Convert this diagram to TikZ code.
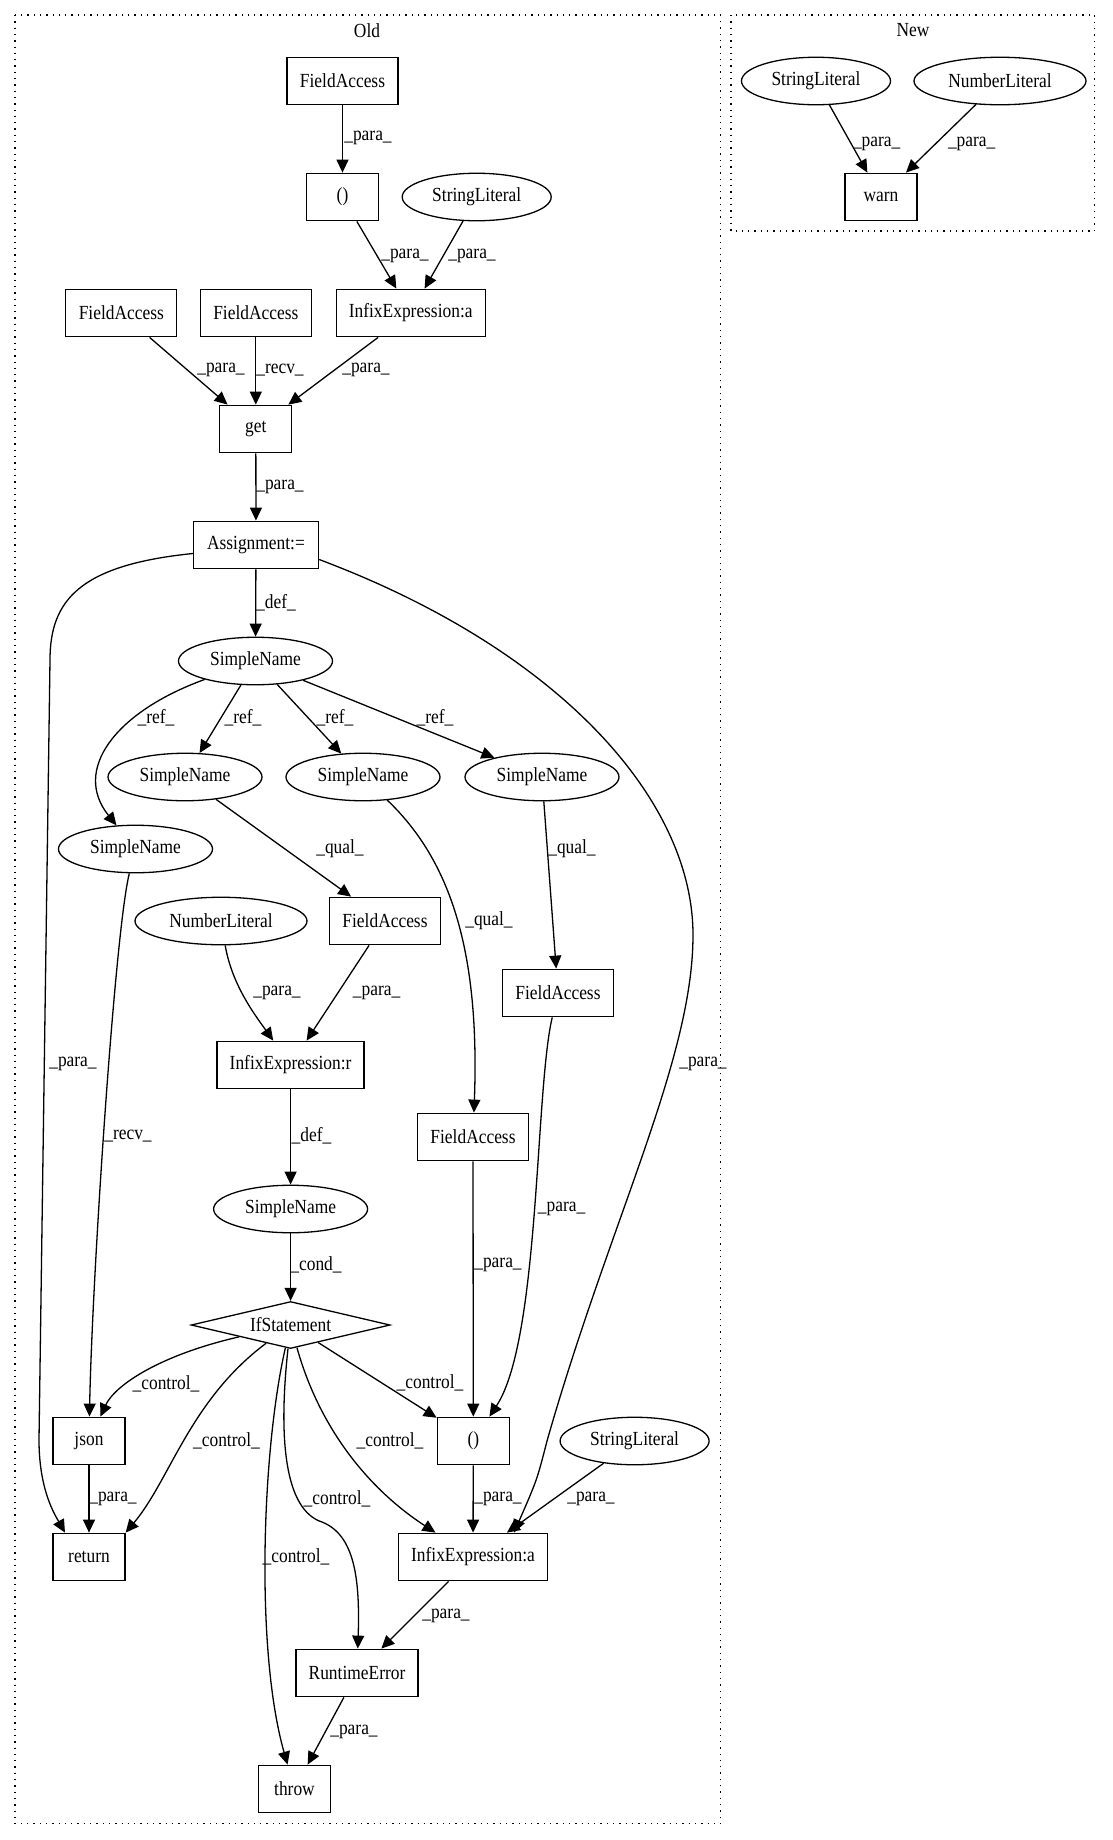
\documentclass[tikz,border=0pt]{standalone}
\usepackage{fontspec}
\setmainfont{Liberation Serif}[FakeStretch=0.87]
\usetikzlibrary{arrows.meta,shapes.geometric}

\begin{document}
\begin{tikzpicture}[x=1pt,y=-1pt,
  every node/.style={font=\fontsize{20}{22}\selectfont},
  box/.style={draw,line width=1.3pt,rectangle,minimum width=72pt,minimum height=47.5pt,inner xsep=4pt},
  oval/.style={draw,line width=1.3pt,ellipse,minimum height=47.5pt,inner sep=0pt},
  ifnode/.style={draw,line width=1.3pt,diamond,aspect=4.2,minimum width=199pt,minimum height=47pt,inner sep=0pt},
  link/.style={line width=1.3pt,-{Triangle[length=13pt,width=12pt]}},
  lbl/.style={inner sep=0pt},
  cluster/.style={line width=1.3pt,dash pattern=on 1.3pt off 5pt}]
  \useasboundingbox (0,0) rectangle (1112,1840);

  % Old
  \draw[cluster] (15,15) rectangle (720.6,1823.6);
  \node (oldt) at (367,30.5) {Old};
  \node[box,minimum width=111pt] (fa1) at (342.5,81) {FieldAccess};
  \node[box] (par1) at (342.5,197) {()};
  \node[oval,minimum width=149pt] (str1) at (476.7,197) {StringLiteral};
  \node[box,minimum width=111pt] (fa2) at (121.3,313) {FieldAccess};
  \node[box,minimum width=111pt] (fa3) at (255.8,313) {FieldAccess};
  \node[box,minimum width=149pt] (infa1) at (410.7,313) {InfixExpression:a};
  \node[box] (get) at (255.8,429) {get};
  \node[box,minimum width=125pt] (assign) at (256,545) {Assignment:=};
  \node[oval,minimum width=154pt] (snm) at (255.5,661) {SimpleName};
  \node[oval,minimum width=154pt] (sna) at (185,777) {SimpleName};
  \node[oval,minimum width=154pt] (snb) at (363,777) {SimpleName};
  \node[oval,minimum width=154pt] (snc) at (542,777) {SimpleName};
  \node[oval,minimum width=154pt] (snd) at (135.5,849) {SimpleName};
  \node[oval,minimum width=172pt] (num1) at (221,921) {NumberLiteral};
  \node[box,minimum width=111pt] (fa4) at (385,921) {FieldAccess};
  \node[box,minimum width=111pt] (fa5) at (558,993) {FieldAccess};
  \node[box,minimum width=147pt] (infr) at (290.6,1065) {InfixExpression:r};
  \node[box,minimum width=111pt] (fa6) at (473,1137) {FieldAccess};
  \node[oval,minimum width=154pt] (sncond) at (290.6,1209) {SimpleName};
  \node[ifnode] (if) at (290.6,1325) {IfStatement};
  \node[box] (json) at (89,1441) {json};
  \node[box] (par2) at (473.3,1441) {()};
  \node[oval,minimum width=149pt] (str2) at (634.6,1441) {StringLiteral};
  \node[box] (ret) at (89,1557) {return};
  \node[box,minimum width=149pt] (infa2) at (473,1557) {InfixExpression:a};
  \node[box,minimum width=122pt] (rt) at (357,1673) {RuntimeError};
  \node[box] (throw) at (294.5,1789) {throw};

  \draw[link] (fa1) -- (par1);
  \draw[link] (par1) -- (infa1);
  \draw[link] (str1) -- (infa1);
  \draw[link] (fa2) -- (get);
  \draw[link] (fa3) -- (get);
  \draw[link] (infa1) -- (get);
  \draw[link] (get) -- (assign);
  \draw[link] (assign) -- (snm);
  \draw[link] ([yshift=-8.5pt]assign.west) .. controls (80,565) and (50,600) .. (50,660)
    -- (39,1440) .. controls (39,1490) and (55,1515) .. ([xshift=-24pt]ret.north);
  \draw[link] ([yshift=-14.5pt]assign.east) .. controls (560,650) and (693,800) .. (693,935)
    .. controls (693,1060) and (610,1220) .. (547,1441) .. controls (537,1480) .. ([xshift=41pt]infa2.north);
  \draw[link] (snm) .. controls (115,712) and (72,770) .. (snd);
  \draw[link] (snm) -- (sna);
  \draw[link] (snm) -- (snb);
  \draw[link] (snm) -- (snc);
  \draw[link] (sna) -- (fa4);
  \draw[link] (snb) .. controls (450,860) and (480,950) .. (fa6);
  \draw[link] (snc) -- (fa5);
  \draw[link] (snd) .. controls (115,930) and (92,1280) .. (json);
  \draw[link] (num1) .. controls (232,985) and (255,1015) .. (infr);
  \draw[link] (fa4) -- (infr);
  \draw[link] (infr) -- (sncond);
  \draw[link] (sncond) -- (if);
  \draw[link] (fa6) -- (par2);
  \draw[link] (fa5) .. controls (535,1090) and (540,1340) .. (par2);
  \draw[link] (if) .. controls (160,1355) and (115,1385) .. (json);
  \draw[link] (if) .. controls (190,1400) and (170,1480) .. (ret.north east);
  \draw[link] (if) .. controls (262,1450) and (255,1650) .. (throw);
  \draw[link] (if) .. controls (278,1440) and (285,1510) .. (322,1522)
    .. controls (355,1535) and (360,1580) .. (rt);
  \draw[link] (if) .. controls (320,1430) and (370,1490) .. (infa2);
  \draw[link] (if) -- (par2);
  \draw[link] (json) -- (ret);
  \draw[link] (par2) -- (infa2);
  \draw[link] (str2) -- (infa2);
  \draw[link] (infa2) -- (rt);
  \draw[link] (rt) -- (throw);

  \node[lbl] (l1) at (368,138) {\_para\_};
  \node[lbl] (l2) at (405,256) {\_para\_};
  \node[lbl] (l3) at (472,256) {\_para\_};
  \node[lbl] (l4) at (221,370) {\_para\_};
  \node[lbl] (l5) at (280,370) {\_recv\_};
  \node[lbl] (l6) at (366,370) {\_para\_};
  \node[lbl] (l7) at (280,487) {\_para\_};
  \node[lbl] (l8) at (276,603) {\_def\_};
  \node[lbl] (l9) at (73,1064) {\_para\_};
  \node[lbl] (l10) at (703,1064) {\_para\_};
  \node[lbl] (l11) at (156,718) {\_ref\_};
  \node[lbl] (l12) at (243,718) {\_ref\_};
  \node[lbl] (l13) at (335,718) {\_ref\_};
  \node[lbl] (l14) at (435,718) {\_ref\_};
  \node[lbl] (l15) at (340,849) {\_qual\_};
  \node[lbl] (l16) at (489,920.5) {\_qual\_};
  \node[lbl] (l17) at (572,849) {\_qual\_};
  \node[lbl] (l18) at (128,1136) {\_recv\_};
  \node[lbl] (l19) at (277,993) {\_para\_};
  \node[lbl] (l20) at (376.6,993) {\_para\_};
  \node[lbl] (l21) at (311.5,1136) {\_def\_};
  \node[lbl] (l22) at (316,1265) {\_cond\_};
  \node[lbl] (l23) at (498,1265) {\_para\_};
  \node[lbl] (l24) at (561.6,1209) {\_para\_};
  \node[lbl] (l25) at (166,1384) {\_control\_};
  \node[lbl] (l26) at (226.5,1441) {\_control\_};
  \node[lbl] (l27) at (296,1557) {\_control\_};
  \node[lbl] (l28) at (337,1499) {\_control\_};
  \node[lbl] (l29) at (390,1441) {\_control\_};
  \node[lbl] (l30) at (430,1383) {\_control\_};
  \node[lbl] (l31) at (113,1499) {\_para\_};
  \node[lbl] (l32) at (498,1499) {\_para\_};
  \node[lbl] (l33) at (591,1499) {\_para\_};
  \node[lbl] (l34) at (446,1616) {\_para\_};
  \node[lbl] (l35) at (354,1732) {\_para\_};

  % New
  \draw[cluster] (731,15) rectangle (1094.5,231);
  \node (newt) at (913,30.5) {New};
  \node[oval,minimum width=149pt] (str3) at (816,81) {StringLiteral};
  \node[oval,minimum width=172pt] (num2) at (1000,81) {NumberLiteral};
  \node[box] (warn) at (881,197) {warn};
  \draw[link] (str3) -- (warn);
  \draw[link] (num2) -- (warn);
  \node[lbl] (l36) at (876.7,144) {\_para\_};
  \node[lbl] (l37) at (971.7,144) {\_para\_};
\end{tikzpicture}
\end{document}
